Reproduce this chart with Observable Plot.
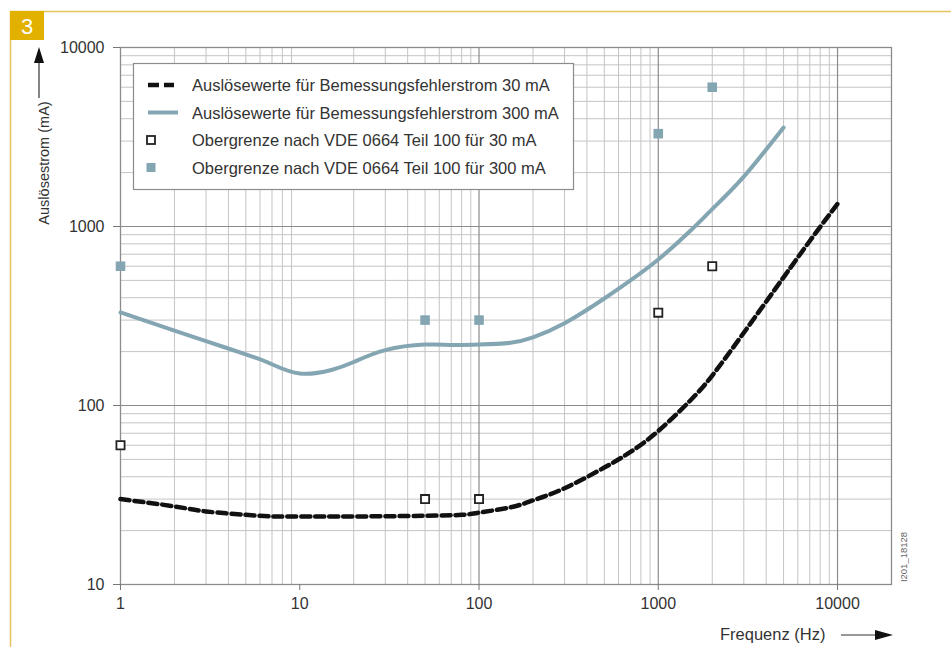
<!DOCTYPE html>
<html>
<head>
<meta charset="utf-8">
<script src="https://cdn.jsdelivr.net/npm/d3@7"></script>
<script src="https://cdn.jsdelivr.net/npm/@observablehq/plot@0.6"></script>
<style>
  html, body { margin: 0; padding: 0; background: #fff; }
  #chart { width: 951px; height: 647px; }
</style>
</head>
<body>
<div id="chart"></div>
<script>
// ---- data ----
const freq30 = [1, 2, 3, 5, 7, 10, 20, 50, 80, 100, 150, 200, 300, 500, 700, 1000, 1500, 2000, 3000, 5000, 7000, 10000];
const val30  = [30, 27.3, 25.6, 24.5, 24, 24, 24, 24.2, 24.5, 25.2, 27, 29.5, 34.5, 45, 55, 72, 106, 147, 255, 520, 830, 1340];

const freq300 = [1, 2, 3, 5, 7, 10, 15, 20, 30, 50, 70, 100, 150, 200, 300, 500, 700, 1000, 1500, 2000, 3000, 5000];
const val300  = [331, 262, 229, 193, 170, 151, 158, 175, 204, 219, 218, 219, 224, 240, 288, 396, 500, 654, 940, 1250, 1900, 3573];

const limFreq   = [1, 50, 100, 1000, 2000];
const lim30     = [60, 30, 30, 330, 600];
const lim300    = [600, 300, 300, 3300, 6000];

const xTicks = [1, 10, 100, 1000, 10000];
const yTicks = [10, 100, 1000, 10000];
const xMajorGrid = [100, 1000, 10000];
const yMajorGrid = [100, 1000];
const mult = [2, 3, 4, 5, 6, 7, 8, 9];

const legendLabels = [
  "Auslösewerte für Bemessungsfehlerstrom 30 mA",
  "Auslösewerte für Bemessungsfehlerstrom 300 mA",
  "Obergrenze nach VDE 0664 Teil 100 für 30 mA",
  "Obergrenze nach VDE 0664 Teil 100 für 300 mA"
];
const xLabel = "Frequenz (Hz)";
const yLabel = "Auslösestrom (mA)";
const figNo = "3";
const imgId = "I201_18128";

// ---- derived tables ----
const curve30 = freq30.map((f, i) => ({f, v: val30[i]}));
const curve300 = freq300.map((f, i) => ({f, v: val300[i]}));
const pts30 = limFreq.map((f, i) => ({f, v: lim30[i]}));
const pts300 = limFreq.map((f, i) => ({f, v: lim300[i]}));
const xMinor = [1, 10, 100, 1000].flatMap(d => mult.map(m => d * m));
const yMinor = [10, 100, 1000].flatMap(d => mult.map(m => d * m));

const teal = "#84a6b2";
const font = "'Liberation Sans', Arial, Helvetica, sans-serif";

const svg = Plot.plot({
  width: 951,
  height: 647,
  marginLeft: 120,
  marginRight: 60,
  marginTop: 47,
  marginBottom: 63,
  style: {fontFamily: font, fontSize: "16px", color: "#333", background: "#fff"},
  x: {type: "log", domain: [1, 20000]},
  y: {type: "log", domain: [10, 10000]},
  marks: [
    Plot.ruleX(xMinor, {stroke: "#c4c4c4", strokeWidth: 1}),
    Plot.ruleY(yMinor, {stroke: "#c4c4c4", strokeWidth: 1}),
    Plot.ruleX(xMajorGrid, {stroke: "#8c8c8c", strokeWidth: 1.2}),
    Plot.ruleY(yMajorGrid, {stroke: "#8c8c8c", strokeWidth: 1.2}),
    Plot.frame({stroke: "#8c8c8c", strokeWidth: 1.3}),
    Plot.axisX({ticks: xTicks, tickFormat: d => String(d), tickSize: 6, tickPadding: 7, fontSize: 16, stroke: "#777", label: null}),
    Plot.axisY({ticks: yTicks, tickFormat: d => String(d), tickSize: 7, tickPadding: 9, fontSize: 16, stroke: "#777", label: null}),
    Plot.line(curve300, {x: "f", y: "v", stroke: teal, strokeWidth: 4, curve: "natural"}),
    Plot.line(curve30, {x: "f", y: "v", stroke: "#111", strokeWidth: 4.5, strokeDasharray: "9,5", curve: "natural"}),
    Plot.dot(pts30, {x: "f", y: "v", symbol: "square", r: 4.6, fill: "white", stroke: "#222", strokeWidth: 1.8}),
    Plot.dot(pts300, {x: "f", y: "v", symbol: "square", r: 5.4, fill: teal, stroke: "none"})
  ]
});

document.getElementById("chart").appendChild(svg);

// ---- decorations ----
const s = d3.select(svg);
const gold = "#e2b100";
const txt = (sel) => sel.attr("font-family", font).attr("fill", "#333");
// frame lines
s.append("line").attr("x1", 10).attr("x2", 951).attr("y1", 11.5).attr("y2", 11.5)
  .attr("stroke", "#e6c35c").attr("stroke-width", 1.5);
s.append("line").attr("x1", 10.5).attr("x2", 10.5).attr("y1", 11).attr("y2", 647)
  .attr("stroke", "#e6c35c").attr("stroke-width", 1.5);
s.append("rect").attr("x", 10).attr("y", 11).attr("width", 34).attr("height", 29).attr("fill", gold);
s.append("text").attr("x", 27).attr("y", 26).attr("text-anchor", "middle").attr("dominant-baseline", "central")
  .attr("fill", "#fff").attr("font-family", font).attr("font-size", 22).text(figNo);

// y label + arrow
s.append("text").attr("transform", "translate(44,163) rotate(-90)").attr("text-anchor", "middle")
  .attr("dominant-baseline", "central").attr("font-size", 14.5).call(txt).text(yLabel);
s.append("line").attr("x1", 39).attr("x2", 39).attr("y1", 98).attr("y2", 60).attr("stroke", "#333").attr("stroke-width", 1.2);
s.append("path").attr("d", "M39,47 L34,63 L44,63 Z").attr("fill", "#111");

// x label + arrow
s.append("text").attr("x", 720).attr("y", 634).attr("text-anchor", "start").attr("dominant-baseline", "central")
  .attr("font-size", 16.5).call(txt).text(xLabel);
s.append("line").attr("x1", 841).attr("x2", 878).attr("y1", 635).attr("y2", 635).attr("stroke", "#333").attr("stroke-width", 1.2);
s.append("path").attr("d", "M893,635 L875,630 L875,640 Z").attr("fill", "#111");

// image id
s.append("text").attr("transform", "translate(903,557) rotate(-90)").attr("text-anchor", "middle")
  .attr("dominant-baseline", "central").attr("font-family", font).attr("font-size", 9.5).attr("fill", "#666").text(imgId);

// legend
const lg = s.append("g");
lg.append("rect").attr("x", 133.5).attr("y", 63.5).attr("width", 440).attr("height", 126)
  .attr("fill", "#fff").attr("stroke", "#8c8c8c").attr("stroke-width", 1.2);
const rows = [85, 112.5, 140, 167.5];
lg.append("line").attr("x1", 148).attr("x2", 174).attr("y1", rows[0]).attr("y2", rows[0])
  .attr("stroke", "#111").attr("stroke-width", 4.5).attr("stroke-dasharray", "11,5");
lg.append("line").attr("x1", 148).attr("x2", 178).attr("y1", rows[1]).attr("y2", rows[1])
  .attr("stroke", teal).attr("stroke-width", 4);
lg.append("rect").attr("x", 147).attr("y", rows[2] - 4).attr("width", 8).attr("height", 8)
  .attr("fill", "#fff").attr("stroke", "#222").attr("stroke-width", 1.8);
lg.append("rect").attr("x", 146.5).attr("y", rows[3] - 4.5).attr("width", 9).attr("height", 9).attr("fill", teal);
legendLabels.forEach((t, i) => {
  lg.append("text").attr("x", 192).attr("y", rows[i]).attr("text-anchor", "start").attr("dominant-baseline", "central")
    .attr("font-size", 16.5).call(txt).text(t);
});
</script>
</body>
</html>
